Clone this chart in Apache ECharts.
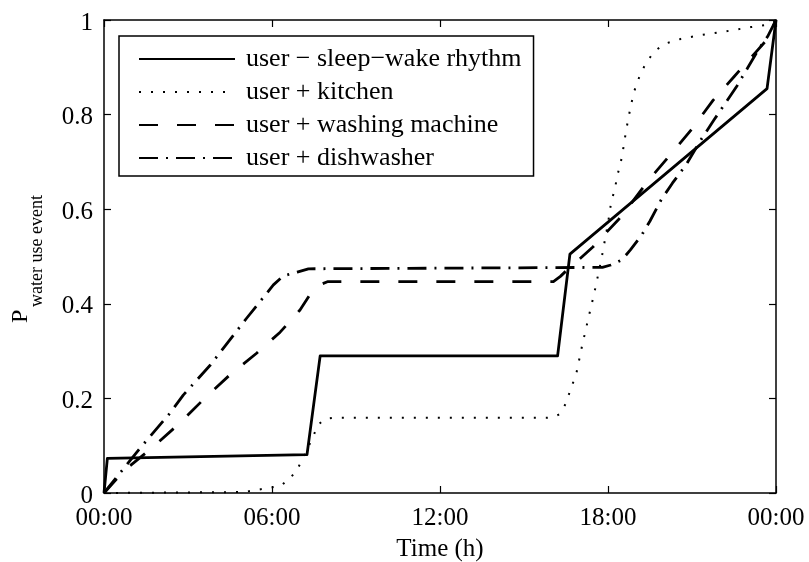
<!DOCTYPE html>
<html>
<head>
<meta charset="utf-8">
<script src="https://cdn.jsdelivr.net/npm/echarts@6/dist/echarts.min.js"></script>
<style>html,body{margin:0;padding:0;background:#fff}#c{width:809px;height:562px}</style>
</head>
<body>
<div id="c"></div>
<script>
var seriesNames = ['user \u2212 sleep\u2212wake rhythm', 'user + kitchen', 'user + washing machine', 'user + dishwasher'];
var xTickLabels = ['00:00', '06:00', '12:00', '18:00', '00:00'];
var yTickLabels = ['0', '0.2', '0.4', '0.6', '0.8', '1'];

var sleepHours = [0, 0.12, 7.25, 7.72, 16.2, 16.64, 23.68, 24];
var sleepP     = [0, 0.073, 0.081, 0.29, 0.29, 0.505, 0.855, 1.0];

var kitchenHours = [0, 5.0, 5.8, 6.3, 6.64, 6.93, 7.2, 7.46, 7.64, 7.9, 8.2, 15.8, 16.1, 16.3, 16.5, 16.68, 16.86, 17.07, 17.3, 17.5, 17.75, 18.0, 18.1, 18.25, 18.35, 18.46, 18.55, 18.63, 18.72, 18.82, 18.94, 19.12, 19.36, 19.68, 20.04, 20.6, 21.2, 22.2, 23.1, 23.7, 24];
var kitchenP     = [0, 0.002, 0.01, 0.015, 0.03, 0.053, 0.085, 0.118, 0.144, 0.157, 0.159, 0.159, 0.161, 0.168, 0.19, 0.222, 0.25, 0.31, 0.37, 0.42, 0.49, 0.57, 0.61, 0.645, 0.675, 0.70, 0.73, 0.76, 0.79, 0.82, 0.85, 0.88, 0.91, 0.935, 0.95, 0.96, 0.967, 0.976, 0.985, 0.99, 1.0];

var washHours = [0, 0.75, 1.75, 2.71, 3.54, 4.5, 5.46, 6.29, 7.0, 7.36, 7.7, 8.0, 16.05, 16.3, 16.6, 16.9, 17.46, 17.96, 18.36, 18.8, 19.5, 20.3, 21.0, 21.75, 22.5, 23.25, 23.7, 24];
var washP     = [0, 0.049, 0.097, 0.148, 0.197, 0.25, 0.296, 0.34, 0.387, 0.42, 0.44, 0.447, 0.447, 0.458, 0.475, 0.49, 0.52, 0.552, 0.577, 0.61, 0.665, 0.72, 0.77, 0.83, 0.88, 0.93, 0.96, 1.0];

var dishHours = [0, 1.29, 2.36, 2.83, 3.79, 5.1, 6.05, 6.4, 6.9, 7.3, 17.8, 18.1, 18.5, 18.8, 19.2, 19.5, 19.9, 20.3, 20.8, 21.3, 21.8, 22.2, 22.6, 23.0, 23.4, 23.7, 24];
var dishP     = [0, 0.095, 0.169, 0.207, 0.27, 0.37, 0.44, 0.459, 0.467, 0.474, 0.477, 0.482, 0.493, 0.514, 0.545, 0.575, 0.62, 0.655, 0.695, 0.745, 0.79, 0.825, 0.86, 0.9, 0.94, 0.965, 1.0];

function pairs(h, p) { return h.map(function (v, i) { return [v, p[i]]; }); }

var FONT = 'Liberation Serif';
var chart = echarts.init(document.getElementById('c'), null, {renderer: 'canvas'});

function xAxisCfg(pos, showLabel) {
  return {
    type: 'value', position: pos, min: 0, max: 24, interval: 6,
    axisLine: {show: true, onZero: false, lineStyle: {color: '#000', width: 1.5}},
    axisTick: {show: true, inside: true, length: 7, lineStyle: {color: '#000', width: 1.2}},
    splitLine: {show: false},
    axisLabel: {show: showLabel, color: '#000', fontFamily: FONT, fontSize: 25, margin: 13,
      formatter: function (v) { return xTickLabels[Math.round(v / 6)]; }}
  };
}
function yAxisCfg(pos, showLabel) {
  return {
    type: 'value', position: pos, min: 0, max: 1, interval: 0.2,
    axisLine: {show: true, onZero: false, lineStyle: {color: '#000', width: 1.5}},
    axisTick: {show: true, inside: true, length: 7, lineStyle: {color: '#000', width: 1.2}},
    splitLine: {show: false},
    axisLabel: {show: showLabel, color: '#000', fontFamily: FONT, fontSize: 25, margin: 11,
      formatter: function (v) { return '{a|' + yTickLabels[Math.round(v / 0.2)] + '}'; },
      rich: {a: {color: '#000', fontFamily: FONT, fontSize: 25, padding: [6, 0, 0, 0]}}}
  };
}

var styles = [
  {type: 'solid', width: 2.8},
  {type: [2, 10], width: 2},
  {type: [19, 19], width: 2.8},
  {type: [19, 8, 2, 8], width: 2.8}
];
var dataSets = [pairs(sleepHours, sleepP), pairs(kitchenHours, kitchenP), pairs(washHours, washP), pairs(dishHours, dishP)];

var option = {
  animation: false,
  backgroundColor: '#fff',
  grid: {left: 104, right: 33, top: 20, bottom: 69, containLabel: false},
  xAxis: [xAxisCfg('bottom', true), xAxisCfg('top', false)],
  yAxis: [yAxisCfg('left', true), yAxisCfg('right', false)],
  legend: {
    orient: 'vertical', left: 119, top: 36,
    backgroundColor: '#fff', borderColor: '#000', borderWidth: 1.5, borderRadius: 0,
    padding: [10, 12, 5, 19], itemWidth: 96, itemHeight: 14, itemGap: 7,
    itemStyle: {color: 'rgba(0,0,0,0)', borderWidth: 0, opacity: 0},
    textStyle: {color: '#000', fontFamily: FONT, fontSize: 26, padding: [0, 0, 0, 6]},
    data: seriesNames
  },
  graphic: [
    {type: 'text', x: 21, y: 323, rotation: Math.PI / 2,
      style: {text: 'P', font: '24px "Liberation Serif"', fill: '#000', align: 'left', verticalAlign: 'middle'}},
    {type: 'text', x: 37, y: 307, rotation: Math.PI / 2,
      style: {text: 'water use event', font: '18px "Liberation Serif"', fill: '#000', align: 'left', verticalAlign: 'middle'}},
    {type: 'text', x: 440, y: 549,
      style: {text: 'Time (h)', font: '25px "Liberation Serif"', fill: '#000', align: 'center', verticalAlign: 'middle'}}
  ],
  series: seriesNames.map(function (n, i) {
    return {
      name: n, type: 'line', data: dataSets[i], showSymbol: false, symbol: 'none', legendIcon: 'none',
      lineStyle: {color: '#000', type: styles[i].type, width: styles[i].width, cap: 'butt', join: 'round'},
      itemStyle: {color: '#000'}
    };
  })
};
chart.setOption(option);
</script>
</body>
</html>
